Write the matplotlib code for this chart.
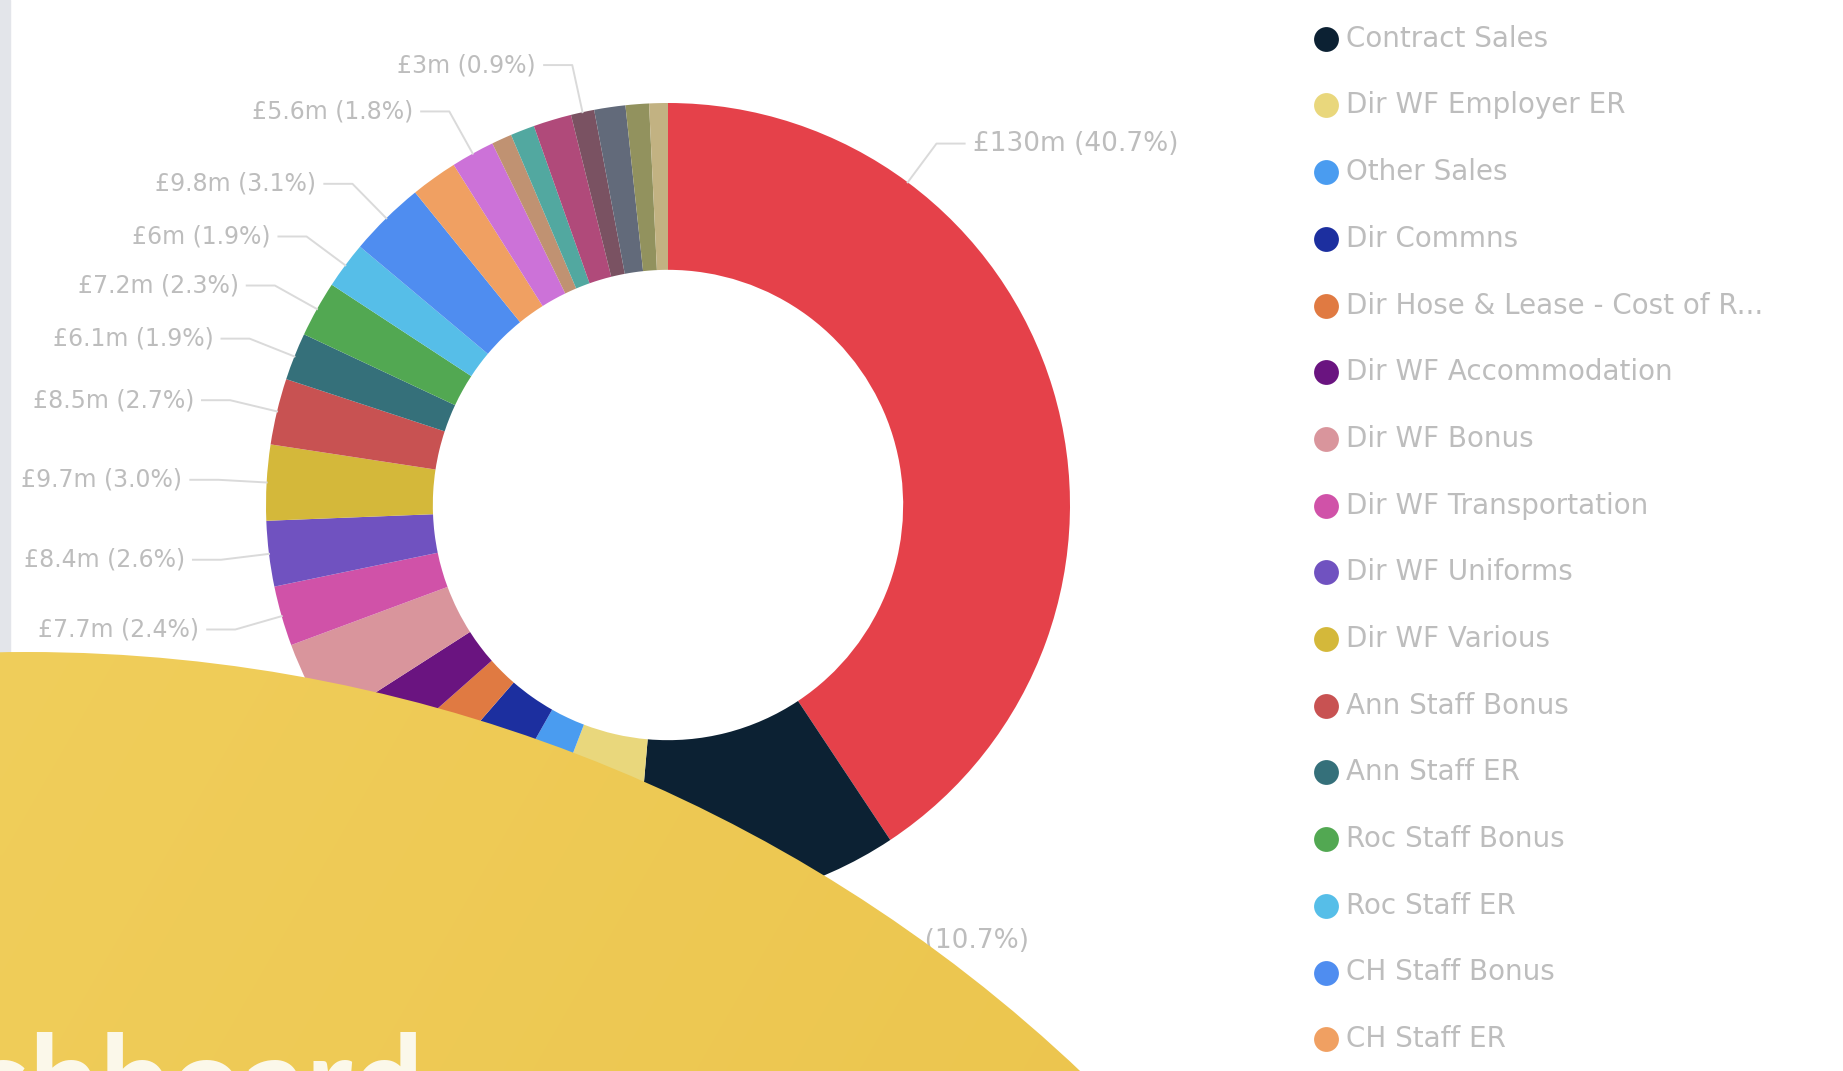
import numpy as np
import matplotlib
matplotlib.use("Agg")
import matplotlib.pyplot as plt
from matplotlib.patches import Circle, Rectangle
from matplotlib.colors import to_rgb

# ---------------- data ----------------
categories = [
    "Direct Sales", "Contract Sales", "Dir WF Employer ER", "Other Sales", "Dir Commns",
    "Dir Hose & Lease - Cost of Rental", "Dir WF Accommodation", "Dir WF Bonus",
    "Dir WF Transportation", "Dir WF Uniforms", "Dir WF Various", "Ann Staff Bonus",
    "Ann Staff ER", "Roc Staff Bonus", "Roc Staff ER", "CH Staff Bonus", "CH Staff ER",
    "Dir WF Training", "Dir WF Travel", "Dir WF Insurance", "Dir WF Meals",
    "Dir WF Pension", "Dir WF Medical", "Dir WF Other", "Sundry",
]
values = [130.0, 34.2, 14.2, 7.6, 10.2, 6.7, 7.8, 10.9, 7.7, 8.4, 9.7, 8.5, 6.1,
          7.2, 6.0, 9.8, 6.0, 5.6, 2.6, 3.1, 4.9, 3.0, 4.0, 3.0, 2.4]
colors = ["#e5414a", "#0c2133", "#e9d77c", "#4a9cf0", "#1c2f9f", "#e07a42",
          "#6a1480", "#d9959c", "#d052a8", "#7052c0", "#d4b83a", "#c85252",
          "#35707a", "#52a852", "#56bee8", "#4f8df0", "#f0a062", "#cc72d8",
          "#c09272", "#52a8a0", "#b04a7a", "#7a5262", "#626a7a", "#92925e", "#c2b282"]

W, H = 1843, 1071
fig = plt.figure(figsize=(W / 100, H / 100), dpi=100)
fig.patch.set_facecolor("white")

# ---------------- donut ----------------
cx, cy, R = 668, 505, 402
ax = fig.add_axes([(cx - R) / W, (H - cy - R) / H, 2 * R / W, 2 * R / H])
ax.pie(values, colors=colors, startangle=90, counterclock=False, radius=1.0,
       wedgeprops=dict(width=0.415, linewidth=0))
ax.set_xlim(-1, 1)
ax.set_ylim(-1, 1)
ax.axis("off")

total = float(np.sum(values))
fracs = np.array(values) / total
ends = np.cumsum(fracs) * 360.0
starts = ends - fracs * 360.0

label_col = "#bdbdbd"
line_col = "#dadada"
gap = 0.115
last_y = {"L": None, "R": None}
for i in range(len(values)):
    ext = ends[i] - starts[i]
    th = starts[i] + (0.25 if ext > 120 else 0.5) * ext
    t = np.deg2rad(th)
    sx, sy = np.sin(t), np.cos(t)
    side = "R" if sx >= 0 else "L"
    ey = 1.12 * sy
    ex = 1.12 * sx
    prev = last_y[side]
    if prev is not None and abs(prev - ey) < gap:
        continue
    last_y[side] = ey
    v = values[i]
    txt = f"£{v:g}m ({fracs[i] * 100:.1f}%)"
    hx = ex + (0.07 if side == "R" else -0.07)
    ax.plot([sx * 1.0, ex, hx], [sy * 1.0, ey, ey], color=line_col, lw=1.4,
            clip_on=False, zorder=3)
    ax.text(hx + (0.02 if side == "R" else -0.02), ey, txt,
            ha="left" if side == "R" else "right", va="center",
            fontsize=19 if side == "R" else 17, color=label_col, clip_on=False,
            zorder=3)

# ---------------- overlay (legend, panel edge, yellow shape) ----------------
ov = fig.add_axes([0, 0, 1, 1])
ov.set_zorder(10)
ov.set_xlim(0, W)
ov.set_ylim(H, 0)
ov.axis("off")
ov.patch.set_visible(False)

ov.add_patch(Rectangle((0, 0), 10, H, color="#e3e5ea", zorder=1))

# legend
leg_x, leg_y0, leg_dy = 1326, -28, 66.7
for i, name in enumerate(categories):
    y = leg_y0 + i * leg_dy
    shown = name if len(name) <= 30 else name[:28] + "..."
    ov.scatter([leg_x], [y], s=320, color=colors[i], zorder=2, clip_on=True,
               linewidths=0)
    ov.text(leg_x + 20, y, shown, ha="left", va="center", fontsize=20,
            color=label_col, clip_on=True, zorder=2)

# yellow blob with gradient
c1 = np.array(to_rgb("#f1d05e"))
c2 = np.array(to_rgb("#eac148"))
gx = np.linspace(0, 1, 400)
gy = np.linspace(0, 1, 240)
GX, GY = np.meshgrid(gx, gy)
tt = np.clip(0.75 * GX + 0.25 * GY, 0, 1)[..., None]
img = c1 * (1 - tt) + c2 * tt
im = ov.imshow(img, extent=(0, W, H, 0), zorder=4, aspect="auto",
               interpolation="bilinear")
blob = Circle((27, 2185), 1533, transform=ov.transData, facecolor="none",
              edgecolor="none")
ov.add_patch(blob)
im.set_clip_path(blob)

ov.text(423, 1125, "Dashboard", ha="right", va="baseline", fontsize=90,
        fontweight="bold", family=["Lato", "DejaVu Sans"], color="#fbf8ea",
        zorder=6, clip_on=True)

fig.savefig("out.png", dpi=100, facecolor="white")
